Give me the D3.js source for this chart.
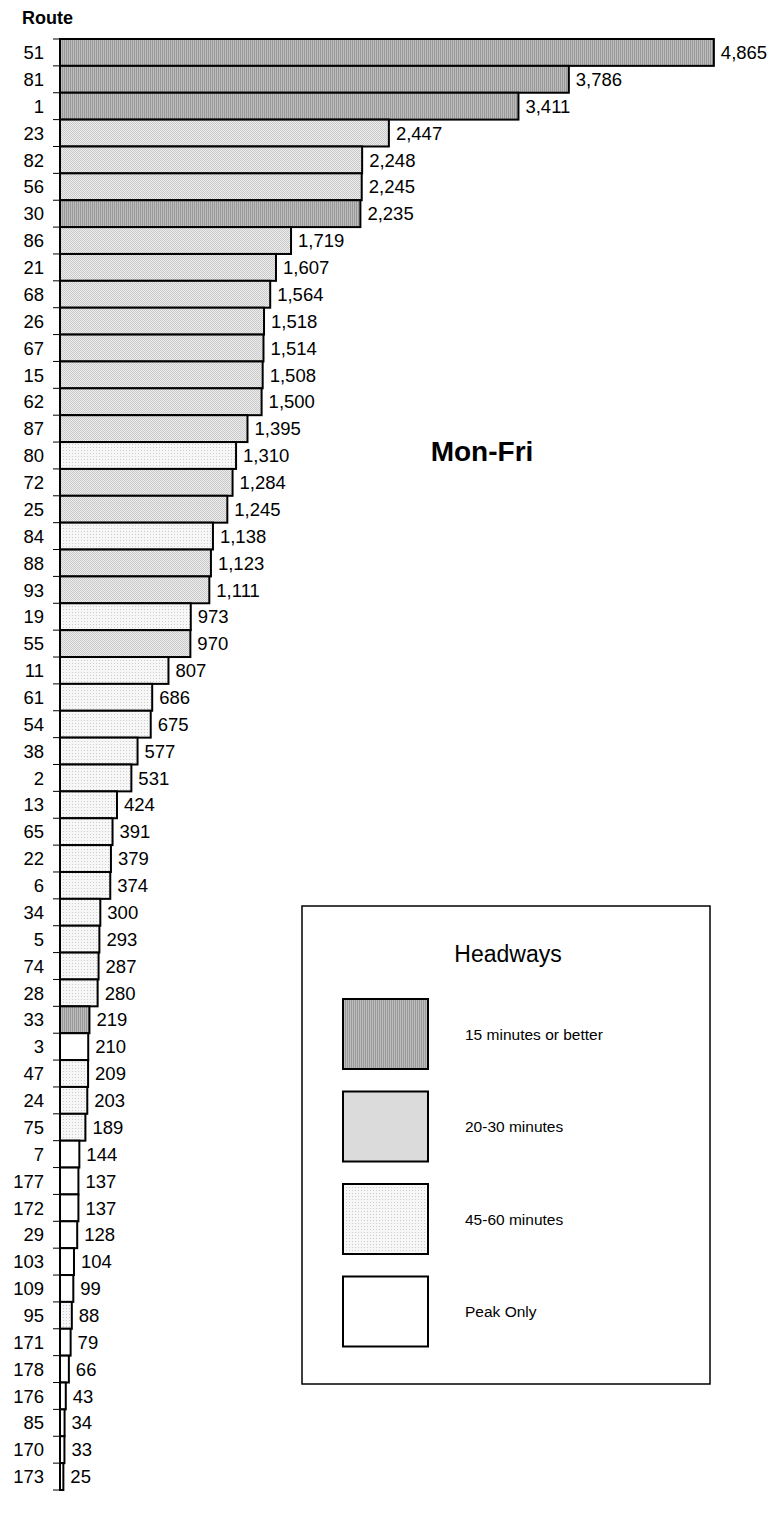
<!DOCTYPE html>
<html>
<head>
<meta charset="utf-8">
<script src="https://cdn.jsdelivr.net/npm/d3@7"></script>
<style>
  body { margin: 0; background: #fff; }
  svg { display: block; font-family: Arial, "Liberation Sans", sans-serif; }
</style>
</head>
<body>
<div id="chart"></div>
<script>

// Weekday riders by route, sorted descending
const routes = ["51","81","1","23","82","56","30","86","21","68","26","67","15","62","87","80","72","25","84","88","93","19","55","11","61","54","38","2","13","65","22","6","34","5","74","28","33","3","47","24","75","7","177","172","29","103","109","95","171","178","176","85","170","173"];
const riders = [4865,3786,3411,2447,2248,2245,2235,1719,1607,1564,1518,1514,1508,1500,1395,1310,1284,1245,1138,1123,1111,973,970,807,686,675,577,531,424,391,379,374,300,293,287,280,219,210,209,203,189,144,137,137,128,104,99,88,79,66,43,34,33,25];
// headway class: 0 = 15 min or better, 1 = 20-30, 2 = 45-60, 3 = peak only
const headway = [0,0,0,1,1,1,0,1,1,1,1,1,1,1,1,2,1,1,2,1,1,2,1,2,2,2,2,2,2,2,2,2,2,2,2,2,0,3,2,2,2,3,3,3,3,3,3,2,3,3,3,3,3,3];
const legendLabels = ["15 minutes or better","20-30 minutes","45-60 minutes","Peak Only"];

const width = 773, height = 1517;

const svg = d3.select("#chart").append("svg")
    .attr("width", width)
    .attr("height", height);

// Fill patterns imitating the spreadsheet hatches
const defs = svg.append("defs");

const p0 = defs.append("pattern").attr("id", "pat0")
    .attr("width", 2).attr("height", 2).attr("patternUnits", "userSpaceOnUse");
p0.append("rect").attr("width", 2).attr("height", 2).attr("fill", "#bcbcbc");
p0.append("rect").attr("width", 1).attr("height", 2).attr("fill", "#999999");

const p1 = defs.append("pattern").attr("id", "pat1")
    .attr("width", 2).attr("height", 2).attr("patternUnits", "userSpaceOnUse");
p1.append("rect").attr("width", 2).attr("height", 2).attr("fill", "#ececec");
p1.append("rect").attr("width", 1).attr("height", 1).attr("fill", "#cacaca");
p1.append("rect").attr("x", 1).attr("y", 1).attr("width", 1).attr("height", 1).attr("fill", "#cacaca");

const p2 = defs.append("pattern").attr("id", "pat2")
    .attr("width", 3).attr("height", 3).attr("patternUnits", "userSpaceOnUse");
p2.append("rect").attr("width", 3).attr("height", 3).attr("fill", "#f7f7f7");
p2.append("rect").attr("width", 1).attr("height", 1).attr("fill", "#cccccc");

const fills = ["url(#pat0)", "url(#pat1)", "url(#pat2)", "#ffffff"];

// Scales
const x = d3.scaleLinear().domain([0, 5000]).range([60, 732]);
const y = d3.scaleBand().domain(routes).range([39, 1490]).padding(0);

// Bars
svg.append("g").selectAll("rect")
    .data(routes)
    .enter().append("rect")
    .attr("x", x(0))
    .attr("y", (d) => y(d))
    .attr("width", (d, i) => x(riders[i]) - x(0))
    .attr("height", y.bandwidth())
    .attr("fill", (d, i) => fills[headway[i]])
    .attr("stroke", "#000")
    .attr("stroke-width", 2);

// Value labels
svg.append("g").selectAll("text")
    .data(routes)
    .enter().append("text")
    .attr("x", (d, i) => x(riders[i]) + 7)
    .attr("y", (d) => y(d) + y.bandwidth() / 2)
    .attr("dy", "0.36em")
    .attr("font-size", 18.5)
    .text((d, i) => d3.format(",")(riders[i]));

// Category axis
const axis = svg.append("g").attr("transform", "translate(" + x(0) + ",0)");
axis.append("line")
    .attr("y1", y.range()[0]).attr("y2", y.range()[1])
    .attr("stroke", "#000").attr("stroke-width", 1.5);
axis.selectAll(".tick")
    .data(routes.concat(["end"]))
    .enter().append("line")
    .attr("x1", -7).attr("x2", 0)
    .attr("y1", (d, i) => y.range()[0] + i * y.step())
    .attr("y2", (d, i) => y.range()[0] + i * y.step())
    .attr("stroke", "#000");
axis.selectAll(".lab")
    .data(routes)
    .enter().append("text")
    .attr("x", -16)
    .attr("y", (d) => y(d) + y.bandwidth() / 2)
    .attr("dy", "0.36em")
    .attr("text-anchor", "end")
    .attr("font-size", 18.5)
    .text((d) => d);

svg.append("text")
    .attr("x", 22).attr("y", 24)
    .attr("font-size", 18).attr("font-weight", "bold")
    .text("Route");

svg.append("text")
    .attr("x", 482).attr("y", 461)
    .attr("text-anchor", "middle")
    .attr("font-size", 28).attr("font-weight", "bold")
    .text("Mon-Fri");

// Legend
const legend = svg.append("g");
legend.append("rect")
    .attr("x", 302).attr("y", 906)
    .attr("width", 408).attr("height", 478)
    .attr("fill", "#fff").attr("stroke", "#000").attr("stroke-width", 1.5);
legend.append("text")
    .attr("x", 508).attr("y", 962)
    .attr("text-anchor", "middle")
    .attr("font-size", 23)
    .text("Headways");

const item = legend.selectAll(".item")
    .data(legendLabels)
    .enter().append("g")
    .attr("transform", (d, i) => "translate(343," + (999 + i * 92.5) + ")");
item.append("rect")
    .attr("width", 85).attr("height", 70)
    .attr("fill", (d, i) => fills[i])
    .attr("stroke", "#000").attr("stroke-width", 2);
item.append("text")
    .attr("x", 122).attr("y", 35)
    .attr("dy", "0.36em")
    .attr("font-size", 15.5)
    .text((d) => d);

</script>
</body>
</html>
